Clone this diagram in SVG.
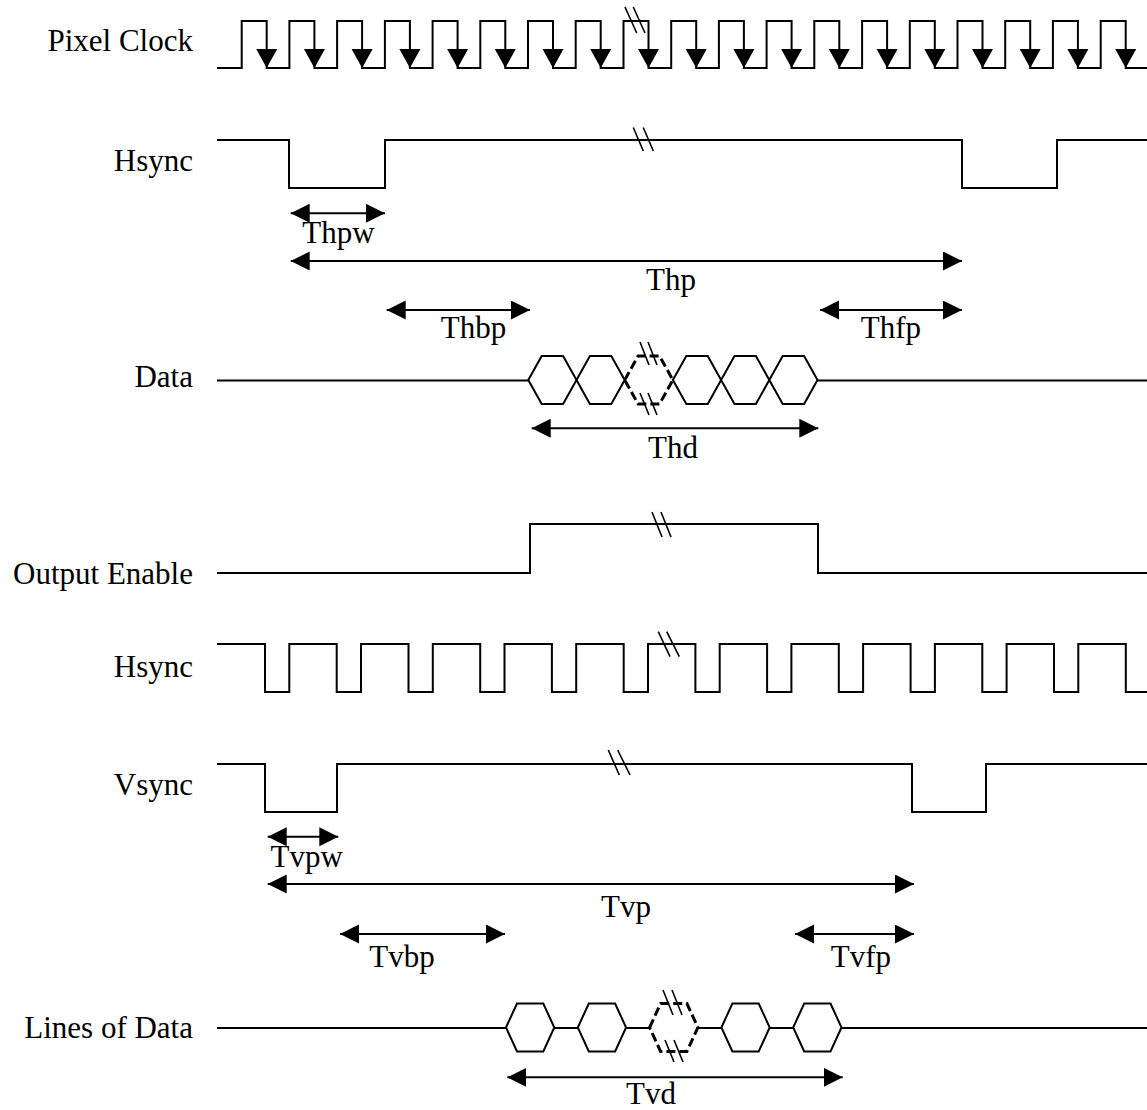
<svg xmlns="http://www.w3.org/2000/svg" xmlns:xlink="http://www.w3.org/1999/xlink" width="1147" height="1110" viewBox="0 0 1147 1110">
<style>
.sig{fill:none;stroke:#000;stroke-width:2;stroke-linejoin:miter}
.brk{stroke:#000;stroke-width:1.6}
.hex{fill:#fff;stroke:#000;stroke-width:2}
.hexd{fill:#fff;stroke:#000;stroke-width:3;stroke-dasharray:9,4}
.dim{stroke:#000;stroke-width:2;marker-start:url(#ah);marker-end:url(#ah)}
.lbl{font-family:"Liberation Serif","Times New Roman",serif;font-size:31px;fill:#000}
</style>
<defs>
<marker id="ah" markerUnits="userSpaceOnUse" markerWidth="20" markerHeight="20" refX="19" refY="9.5" orient="auto-start-reverse"><path d="M0,0 L19,9.5 L0,19 Z" fill="#000"/></marker>
<path id="clk" d="M-10.5,49 L10.5,49 L0,68 Z" fill="#000"/>
<polygon id="hexA" points="0,380 13.4,356 34.8,356 48.2,380 34.8,404 13.4,404"/>
<polygon id="hexB" points="0,1027.5 11,1003.5 37.3,1003.5 48.3,1027.5 37.3,1051.5 11,1051.5"/>
</defs>

<g id="labels">
<text class="lbl" x="193" y="51" text-anchor="end">Pixel Clock</text>
<text class="lbl" x="193" y="171" text-anchor="end">Hsync</text>
<text class="lbl" x="193" y="387" text-anchor="end">Data</text>
<text class="lbl" x="193" y="584" text-anchor="end">Output Enable</text>
<text class="lbl" x="193" y="677" text-anchor="end">Hsync</text>
<text class="lbl" x="193" y="795" text-anchor="end">Vsync</text>
<text class="lbl" x="193" y="1038" text-anchor="end">Lines of Data</text>
</g>

<g id="pixel-clock">
<path class="sig" d="M217,68 H241.7 V21 H266.7 V68 H289.4 V21 H314.4 V68 H337.1 V21 H362.1 V68 H384.9 V21 H409.9 V68 H432.6 V21 H457.6 V68 H480.3 V21 H505.3 V68 H528 V21 H553 V68 H575.7 V21 H600.7 V68 H623.5 V21 H648.5 V68 H671.2 V21 H696.2 V68 H718.9 V21 H743.9 V68 H766.6 V21 H791.6 V68 H814.3 V21 H839.3 V68 H862.1 V21 H887.1 V68 H909.8 V21 H934.8 V68 H957.5 V21 H982.5 V68 H1005.2 V21 H1030.2 V68 H1052.9 V21 H1077.9 V68 H1100.7 V21 H1125.7 V68 H1147"/>
<use xlink:href="#clk" x="266.7"/><use xlink:href="#clk" x="314.4"/><use xlink:href="#clk" x="362.1"/><use xlink:href="#clk" x="409.9"/><use xlink:href="#clk" x="457.6"/><use xlink:href="#clk" x="505.3"/><use xlink:href="#clk" x="553"/><use xlink:href="#clk" x="600.7"/><use xlink:href="#clk" x="648.5"/><use xlink:href="#clk" x="696.2"/><use xlink:href="#clk" x="743.9"/><use xlink:href="#clk" x="791.6"/><use xlink:href="#clk" x="839.3"/><use xlink:href="#clk" x="887.1"/><use xlink:href="#clk" x="934.8"/><use xlink:href="#clk" x="982.5"/><use xlink:href="#clk" x="1030.2"/><use xlink:href="#clk" x="1077.9"/><use xlink:href="#clk" x="1125.7"/>
<line class="brk" x1="625" y1="7" x2="636.7" y2="33"/><line class="brk" x1="633.3" y1="7" x2="645" y2="33"/>
</g>

<g id="hsync-h">
<path class="sig" d="M217,140 H289 V188 H385 V140 H962 V188 H1057 V140 H1147"/>
<line class="brk" x1="633.3" y1="127.5" x2="643.3" y2="151"/><line class="brk" x1="643.3" y1="127.5" x2="653.3" y2="151"/>
</g>

<g id="data">
<path class="sig" d="M217,380.5 H528.3 M817.5,380.5 H1147"/>
<use xlink:href="#hexA" class="hex" x="528.3"/>
<use xlink:href="#hexA" class="hex" x="576.5"/>
<use xlink:href="#hexA" class="hexd" x="624.7"/>
<use xlink:href="#hexA" class="hex" x="672.9"/>
<use xlink:href="#hexA" class="hex" x="721.1"/>
<use xlink:href="#hexA" class="hex" x="769.3"/>
<line class="brk" x1="640" y1="342" x2="649" y2="365"/><line class="brk" x1="648" y1="342" x2="657" y2="365"/>
<line class="brk" x1="640" y1="393" x2="649" y2="415"/><line class="brk" x1="648" y1="393" x2="657" y2="415"/>
</g>

<g id="output-enable">
<path class="sig" d="M217,573 H530 V524 H818 V573 H1147"/>
<line class="brk" x1="652" y1="512" x2="662" y2="537"/><line class="brk" x1="661" y1="512" x2="671" y2="537"/>
</g>

<g id="hsync-v">
<path class="sig" d="M217,644 H265 V692 H289.3 V644 H336.7 V692 H361 V644 H408.5 V692 H432.8 V644 H480.2 V692 H504.5 V644 H551.9 V692 H576.2 V644 H623.7 V692 H648 V644 H695.4 V692 H719.7 V644 H767.1 V692 H791.4 V644 H838.8 V692 H863.1 V644 H910.6 V692 H934.9 V644 H982.3 V692 H1006.6 V644 H1054 V692 H1078.3 V644 H1125.8 V692 H1147"/>
<line class="brk" x1="658.3" y1="631.7" x2="670" y2="656.7"/><line class="brk" x1="666.7" y1="631.7" x2="679.3" y2="656.7"/>
</g>

<g id="vsync">
<path class="sig" d="M217,764 H265 V812 H337 V764 H912 V812 H986 V764 H1147"/>
<line class="brk" x1="608.3" y1="750" x2="619.3" y2="775"/><line class="brk" x1="617.7" y1="750" x2="630" y2="775"/>
</g>

<g id="lines-of-data">
<path class="sig" d="M217,1028 H1147"/>
<use xlink:href="#hexB" class="hex" x="506"/>
<use xlink:href="#hexB" class="hex" x="577.8"/>
<use xlink:href="#hexB" class="hexd" x="649.6"/>
<use xlink:href="#hexB" class="hex" x="721.4"/>
<use xlink:href="#hexB" class="hex" x="793.2"/>
<line class="brk" x1="663" y1="990" x2="673" y2="1015"/><line class="brk" x1="672" y1="990" x2="682" y2="1015"/>
<line class="brk" x1="665" y1="1040" x2="674" y2="1062"/><line class="brk" x1="674" y1="1040" x2="683" y2="1062"/>
</g>

<g id="connectors">
<line class="dim" x1="290.7" y1="213.3" x2="385" y2="213.3"/>
<line class="dim" x1="290.7" y1="261" x2="962" y2="261"/>
<line class="dim" x1="386.7" y1="310" x2="530" y2="310"/>
<line class="dim" x1="820" y1="310" x2="962" y2="310"/>
<line class="dim" x1="531.7" y1="428.3" x2="818.3" y2="428.3"/>
<line class="dim" x1="267.7" y1="836.7" x2="338.3" y2="836.7"/>
<line class="dim" x1="267.7" y1="884" x2="914" y2="884"/>
<line class="dim" x1="340" y1="934" x2="505" y2="934"/>
<line class="dim" x1="795" y1="934" x2="914" y2="934"/>
<line class="dim" x1="507.3" y1="1077.3" x2="842.7" y2="1077.3"/>
</g>

<g id="dim-labels">
<text class="lbl" x="338.5" y="242.7" text-anchor="middle">Thpw</text>
<text class="lbl" x="671" y="290" text-anchor="middle">Thp</text>
<text class="lbl" x="473.5" y="338" text-anchor="middle">Thbp</text>
<text class="lbl" x="891" y="338" text-anchor="middle">Thfp</text>
<text class="lbl" x="673" y="458.3" text-anchor="middle">Thd</text>
<text class="lbl" x="306.7" y="866.7" text-anchor="middle">Tvpw</text>
<text class="lbl" x="626" y="917" text-anchor="middle">Tvp</text>
<text class="lbl" x="402" y="967" text-anchor="middle">Tvbp</text>
<text class="lbl" x="861" y="967" text-anchor="middle">Tvfp</text>
<text class="lbl" x="651" y="1104" text-anchor="middle">Tvd</text>
</g>
</svg>
